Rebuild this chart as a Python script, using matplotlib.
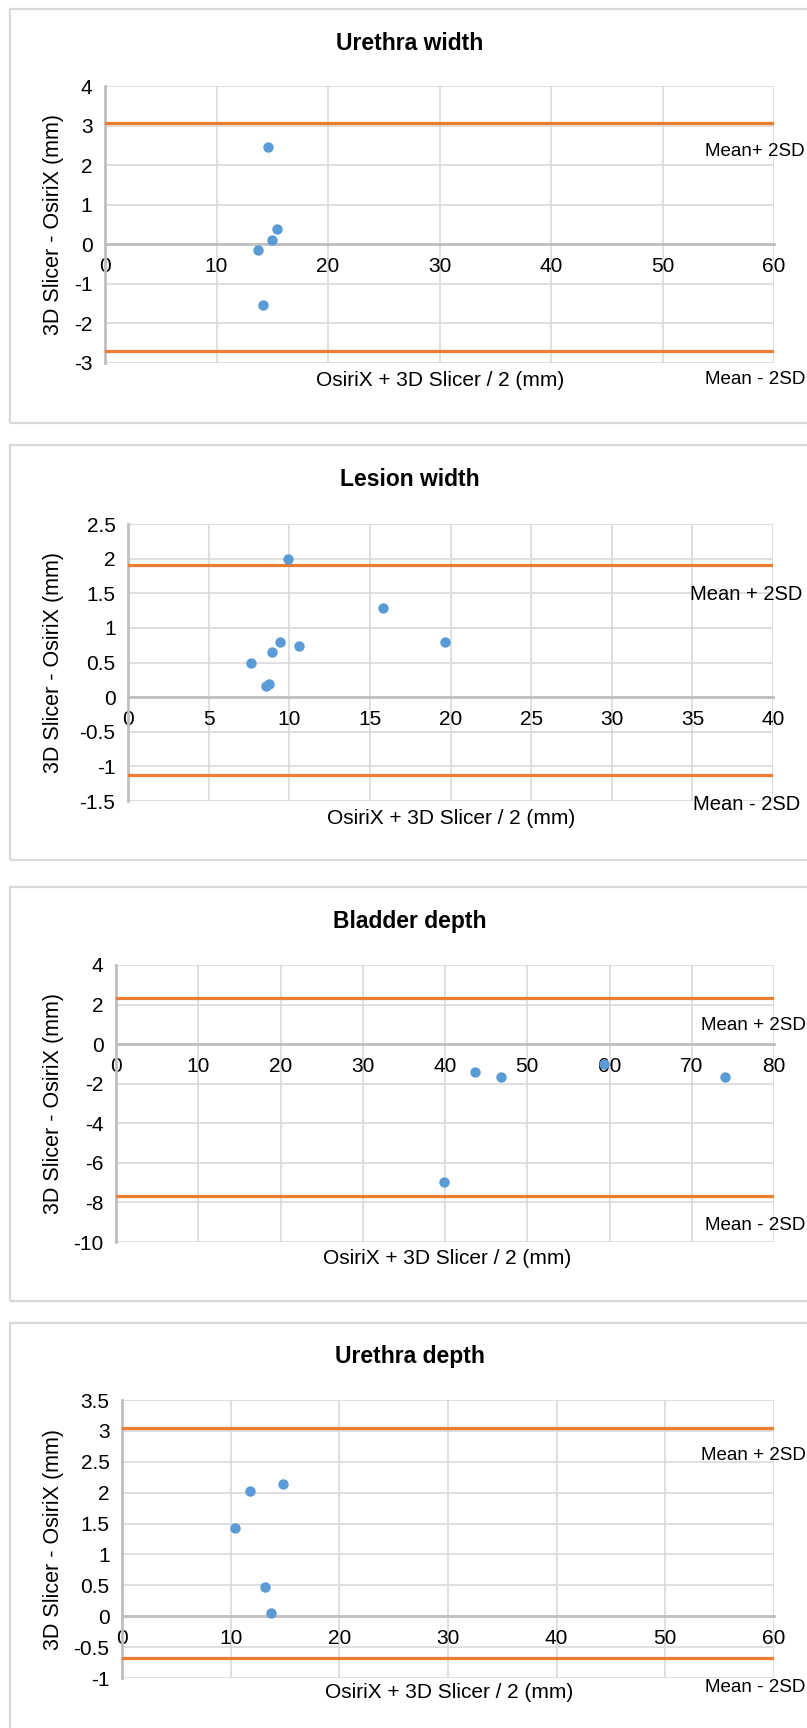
import matplotlib
matplotlib.use("Agg")
import matplotlib.pyplot as plt
from matplotlib.patches import Rectangle
from matplotlib.ticker import FuncFormatter, MultipleLocator

plt.rcParams['font.family'] = ['Liberation Sans', 'DejaVu Sans']

# ---------------- data ----------------
titles = ["Urethra width", "Lesion width", "Bladder depth", "Urethra depth"]

uw_x = [14.6, 15.4, 15.0, 13.7, 14.2]
uw_y = [2.46, 0.38, 0.12, -0.15, -1.54]
uw_limits = [3.07, -2.70]

lw_x = [9.95, 15.8, 19.65, 9.42, 10.6, 8.91, 7.6, 8.72, 8.53]
lw_y = [2.0, 1.29, 0.80, 0.80, 0.74, 0.65, 0.49, 0.19, 0.16]
lw_limits = [1.91, -1.12]

bd_x = [43.7, 46.8, 59.3, 74.0, 39.9]
bd_y = [-1.42, -1.64, -1.02, -1.64, -6.98]
bd_limits = [2.35, -7.7]

ud_x = [14.85, 11.77, 10.4, 13.15, 13.72]
ud_y = [2.14, 2.03, 1.42, 0.47, 0.06]
ud_limits = [3.05, -0.68]

x_ranges = [(0, 60, 10), (0, 40, 5), (0, 80, 10), (0, 60, 10)]
y_ranges = [(-3, 4, 1), (-1.5, 2.5, 0.5), (-10, 4, 2), (-1, 3.5, 0.5)]

upper_labels = ["Mean+ 2SD", "Mean + 2SD", "Mean + 2SD", "Mean + 2SD"]
lower_labels = ["Mean - 2SD", "Mean - 2SD", "Mean - 2SD", "Mean - 2SD"]
x_label = "OsiriX + 3D Slicer / 2 (mm)"
y_label = "3D Slicer - OsiriX (mm)"

series_x = [uw_x, lw_x, bd_x, ud_x]
series_y = [uw_y, lw_y, bd_y, ud_y]
limits = [uw_limits, lw_limits, bd_limits, ud_limits]

# ---------------- layout (pixels) ----------------
W, H = 807, 1728
fig = plt.figure(figsize=(W / 100, H / 100), dpi=100)

axes_px = [(105, 86, 774, 363), (128, 524, 773, 801), (116, 965, 774, 1242), (122, 1400, 774, 1678)]
boxes_px = [(10, 9, 900, 423), (10, 445, 900, 860), (10, 887, 900, 1301), (10, 1323, 900, 1800)]
title_pos = [(410, 43), (410, 480), (410, 921), (410, 1357)]
xlabel_pos = [(440, 380), (451, 818), (447, 1258), (449, 1693)]
upper_pos = [(705, 152), (690, 595), (701, 1026), (701, 1456)]
lower_pos = [(705, 380), (693, 805), (705, 1225), (705, 1687)]
mean_fs = [13.5, 14.5, 13.5, 13.5]

BLUE = "#5B9BD5"
ORANGE = "#ED7D31"
GRID = "#D9D9D9"
AXIS = "#BFBFBF"

def fx(px):
    return px / W

def fy(py):
    return 1 - py / H

fmt = FuncFormatter(lambda v, p: "%g" % v)

for i in range(4):
    # panel border
    bl, bt, br, bb = boxes_px[i]
    fig.patches.append(Rectangle((fx(bl), fy(bb)), fx(br - bl), (bb - bt) / H,
                                 transform=fig.transFigure, fill=False,
                                 edgecolor=GRID, linewidth=1.6, zorder=0))

    l, t, r, b = axes_px[i]
    ax = fig.add_axes([fx(l), fy(b), fx(r - l), (b - t) / H])
    x0, x1, xs = x_ranges[i]
    y0, y1, ys = y_ranges[i]
    ax.set_xlim(x0, x1)
    ax.set_ylim(y0, y1)
    ax.xaxis.set_major_locator(MultipleLocator(xs))
    ax.yaxis.set_major_locator(MultipleLocator(ys))
    ax.xaxis.set_major_formatter(fmt)
    ax.yaxis.set_major_formatter(fmt)
    ax.grid(True, color=GRID, linewidth=1.2, zorder=0)
    ax.set_axisbelow(True)

    for s in ["top", "right"]:
        ax.spines[s].set_visible(False)
    ax.spines["bottom"].set_position(("data", 0))
    ax.spines["bottom"].set_color(AXIS)
    ax.spines["bottom"].set_linewidth(2.0)
    ax.spines["left"].set_color(AXIS)
    ax.spines["left"].set_linewidth(2.0)

    ax.tick_params(axis="both", length=0, labelsize=15, colors="black")
    ax.tick_params(axis="x", pad=9)
    ax.tick_params(axis="y", pad=9)

    up, lo = limits[i]
    ax.axhline(up, color=ORANGE, linewidth=2.3, zorder=3)
    ax.axhline(lo, color=ORANGE, linewidth=2.3, zorder=3)
    ax.plot(series_x[i], series_y[i], "o", color=BLUE, markersize=7.5,
            markeredgewidth=0, zorder=4, clip_on=False)

    # texts
    tx, ty = title_pos[i]
    fig.text(fx(tx), fy(ty), titles[i], ha="center", va="center",
             fontsize=16.5, fontweight="bold")
    lx, ly = xlabel_pos[i]
    fig.text(fx(lx), fy(ly), x_label, ha="center", va="center", fontsize=15)
    fig.text(fx(54), fy((t + b) / 2), y_label, ha="center", va="center",
             rotation=90, fontsize=15.5)
    ux, uy = upper_pos[i]
    fig.text(fx(ux), fy(uy), upper_labels[i], ha="left", va="center", fontsize=mean_fs[i])
    dx, dy = lower_pos[i]
    fig.text(fx(dx), fy(dy), lower_labels[i], ha="left", va="center", fontsize=mean_fs[i])

fig.savefig("out.png", dpi=100)
